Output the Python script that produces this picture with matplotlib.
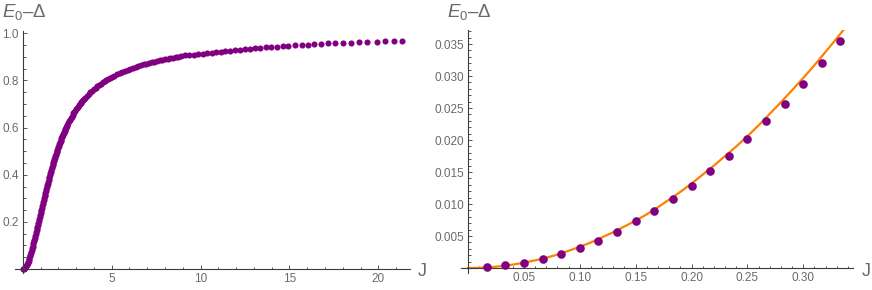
import numpy as np
import matplotlib.pyplot as plt
from matplotlib.ticker import FixedLocator, MultipleLocator

# left panel: E0 - Delta vs J
j_all = [0.00, 0.05, 0.10, 0.15, 0.20, 0.225, 0.25, 0.275, 0.30, 0.325,
         0.35, 0.375, 0.40, 0.425, 0.45, 0.475, 0.50, 0.525, 0.55, 0.575,
         0.60, 0.625, 0.65, 0.675, 0.70, 0.725, 0.75, 0.775, 0.80, 0.825,
         0.85, 0.875, 0.90, 0.925, 0.95, 0.975, 1.00, 1.025, 1.05, 1.075,
         1.10, 1.125, 1.15, 1.175, 1.20, 1.225, 1.25, 1.275, 1.30, 1.325,
         1.35, 1.375, 1.40, 1.425, 1.45, 1.475, 1.50, 1.525, 1.55, 1.575,
         1.60, 1.625, 1.65, 1.675, 1.70, 1.725, 1.75, 1.775, 1.80, 1.825,
         1.85, 1.875, 1.90, 1.925, 1.95, 1.975, 2.00, 2.025, 2.05, 2.075,
         2.10, 2.125, 2.15, 2.175, 2.20, 2.225, 2.25, 2.275, 2.30, 2.325,
         2.35, 2.375, 2.40, 2.425, 2.45, 2.475, 2.50, 2.55, 2.60, 2.65,
         2.70, 2.75, 2.80, 2.85, 2.90, 2.95, 3.00, 3.05, 3.10, 3.15,
         3.20, 3.25, 3.30, 3.35, 3.40, 3.45, 3.5, 3.6, 3.7, 3.8,
         3.9, 4.0, 4.1, 4.2, 4.3, 4.4, 4.5, 4.6, 4.7, 4.8,
         4.9, 5.0, 5.15, 5.3, 5.45, 5.6, 5.75, 5.9, 6.05, 6.2,
         6.35, 6.5, 6.65, 6.8, 6.95, 7.1, 7.25, 7.4, 7.55, 7.7,
         7.85, 8.0, 8.15, 8.3, 8.45, 8.6, 8.75, 8.9, 9.12, 9.36,
         9.63, 9.87, 10.12, 10.38, 10.62, 10.87, 11.13, 11.39, 11.65, 11.93,
         12.22, 12.50, 12.78, 13.06, 13.34, 13.66, 13.96, 14.28, 14.62, 14.93,
         15.29, 15.69, 16.04, 16.40, 16.79, 17.18, 17.58, 18.03, 18.48, 18.93,
         19.38, 19.90, 20.37, 20.88, 21.35]
e_all = [0.000, 0.001, 0.003, 0.007, 0.013, 0.017, 0.021, 0.026, 0.031, 0.036,
         0.042, 0.048, 0.054, 0.060, 0.067, 0.074, 0.081, 0.088, 0.095, 0.102,
         0.110, 0.117, 0.125, 0.132, 0.140, 0.148, 0.156, 0.164, 0.172, 0.180,
         0.188, 0.196, 0.204, 0.212, 0.220, 0.228, 0.236, 0.244, 0.252, 0.260,
         0.268, 0.276, 0.284, 0.292, 0.300, 0.308, 0.316, 0.324, 0.332, 0.340,
         0.347, 0.355, 0.362, 0.370, 0.377, 0.385, 0.392, 0.399, 0.406, 0.413,
         0.420, 0.427, 0.434, 0.441, 0.447, 0.454, 0.460, 0.466, 0.472, 0.478,
         0.484, 0.490, 0.496, 0.502, 0.507, 0.513, 0.518, 0.524, 0.529, 0.534,
         0.539, 0.544, 0.549, 0.554, 0.559, 0.564, 0.568, 0.573, 0.577, 0.582,
         0.586, 0.591, 0.595, 0.599, 0.603, 0.607, 0.611, 0.619, 0.626, 0.633,
         0.640, 0.647, 0.653, 0.660, 0.666, 0.672, 0.678, 0.684, 0.689, 0.694,
         0.699, 0.704, 0.709, 0.714, 0.718, 0.723, 0.727, 0.735, 0.743, 0.750,
         0.757, 0.764, 0.770, 0.776, 0.782, 0.787, 0.792, 0.797, 0.802, 0.806,
         0.810, 0.814, 0.820, 0.826, 0.831, 0.836, 0.841, 0.845, 0.849, 0.853,
         0.857, 0.861, 0.864, 0.868, 0.871, 0.874, 0.877, 0.880, 0.883, 0.885,
         0.888, 0.890, 0.892, 0.895, 0.897, 0.899, 0.901, 0.903, 0.906, 0.908,
         0.910, 0.912, 0.914, 0.916, 0.918, 0.920, 0.922, 0.924, 0.926, 0.928,
         0.930, 0.932, 0.934, 0.936, 0.938, 0.940, 0.942, 0.944, 0.946, 0.947,
         0.949, 0.951, 0.952, 0.954, 0.955, 0.957, 0.958, 0.959, 0.961, 0.962,
         0.963, 0.964, 0.966, 0.967, 0.968]

# right panel: small-J points and the orange fit
j_small = [0.0167, 0.0333, 0.0500, 0.0667, 0.0833, 0.1000, 0.1167, 0.1333, 0.1500, 0.1667,
           0.1833, 0.2000, 0.2167, 0.2333, 0.2500, 0.2667, 0.2833, 0.3000, 0.3167, 0.3333]
e_small = [0.0001, 0.0004, 0.0008, 0.0014, 0.0022, 0.0032, 0.0043, 0.0057, 0.0073, 0.0089,
           0.0108, 0.0128, 0.0151, 0.0175, 0.0201, 0.0229, 0.0257, 0.0288, 0.0321, 0.0355]
j_fit = [0.00, 0.01, 0.02, 0.03, 0.04, 0.05, 0.06, 0.07, 0.08, 0.09,
         0.10, 0.11, 0.12, 0.13, 0.14, 0.15, 0.16, 0.17, 0.18, 0.19,
         0.20, 0.21, 0.22, 0.23, 0.24, 0.25, 0.26, 0.27, 0.28, 0.29,
         0.30, 0.31, 0.32, 0.33, 0.34]
e_fit = [0.0, 0.00003, 0.00013, 0.0003, 0.00053, 0.00083, 0.0012, 0.0016, 0.0021, 0.0027,
         0.0033, 0.0040, 0.0048, 0.0056, 0.0065, 0.0074, 0.0084, 0.0095, 0.0107, 0.0119,
         0.0132, 0.0146, 0.0160, 0.0175, 0.0190, 0.0206, 0.0223, 0.0241, 0.0259, 0.0278,
         0.0297, 0.0317, 0.0338, 0.0359, 0.0381]

left_xticks = [5, 10, 15, 20]
left_yticks = [0.2, 0.4, 0.6, 0.8, 1.0]
left_ylabels = ['0.2', '0.4', '0.6', '0.8', '1.0']
right_xticks = [0.05, 0.10, 0.15, 0.20, 0.25, 0.30]
right_xlabels = ['0.05', '0.10', '0.15', '0.20', '0.25', '0.30']
right_yticks = [0.005, 0.010, 0.015, 0.020, 0.025, 0.030, 0.035]
right_ylabels = ['0.005', '0.010', '0.015', '0.020', '0.025', '0.030', '0.035']

plt.rcParams['font.family'] = ['Liberation Sans', 'DejaVu Sans']
plt.rcParams['mathtext.fontset'] = 'custom'
plt.rcParams['mathtext.rm'] = 'Liberation Sans'
plt.rcParams['mathtext.it'] = 'Liberation Sans:italic'

W, H = 872, 290
fig = plt.figure(figsize=(W / 100, H / 100), dpi=100)

purple = '#800080'
orange = '#ff8000'
axcol = '#3c3c3c'
txtcol = '#6a6a6a'


def make_axes(x0, x1, ytop, ybot):
    return fig.add_axes([x0 / W, 1 - ybot / H, (x1 - x0) / W, (ybot - ytop) / H])


def style(ax):
    for s in ['top', 'right']:
        ax.spines[s].set_visible(False)
    for s in ['left', 'bottom']:
        ax.spines[s].set_position(('data', 0))
        ax.spines[s].set_color(axcol)
        ax.spines[s].set_linewidth(0.8)
    ax.tick_params(which='both', direction='in', colors=axcol, labelcolor=txtcol,
                   labelsize=8.5, width=0.6)
    ax.tick_params(which='major', length=3.2, pad=3)
    ax.tick_params(which='minor', length=1.8)
    ax.patch.set_alpha(0)


# left
ax1 = make_axes(15, 410, 30.5, 273)
ax1.plot(j_all, e_all, 'o', color=purple, ms=4.4, mew=0, clip_on=False)
ax1.set_xlim(-0.44, 21.78)
ax1.set_ylim(-0.017, 1.012)
style(ax1)
ax1.xaxis.set_major_locator(FixedLocator(left_xticks))
ax1.set_xticklabels([str(t) for t in left_xticks])
ax1.xaxis.set_minor_locator(MultipleLocator(1))
ax1.yaxis.set_major_locator(FixedLocator(left_yticks))
ax1.set_yticklabels(left_ylabels)
ax1.yaxis.set_minor_locator(MultipleLocator(0.05))

# right
ax2 = make_axes(461, 853, 30, 272.5)
ax2.plot(j_fit, e_fit, '-', color=orange, lw=1.6, zorder=2)
ax2.plot(j_small, e_small, 'o', color=purple, ms=6.2, mew=0, zorder=3, clip_on=False)
ax2.set_xlim(-0.0063, 0.3445)
ax2.set_ylim(-0.0007, 0.0372)
style(ax2)
ax2.xaxis.set_major_locator(FixedLocator(right_xticks))
ax2.set_xticklabels(right_xlabels)
ax2.xaxis.set_minor_locator(MultipleLocator(0.01))
ax2.yaxis.set_major_locator(FixedLocator(right_yticks))
ax2.set_yticklabels(right_ylabels)
ax2.yaxis.set_minor_locator(MultipleLocator(0.001))

# axis labels
ylab = r'$E_0$–Δ'
fig.text(2 / W, 1 - 17 / H, ylab, fontsize=13.5, color=txtcol, va='baseline', ha='left')
fig.text(447 / W, 1 - 17 / H, ylab, fontsize=13.5, color=txtcol, va='baseline', ha='left')
fig.text(418 / W, 1 - 271 / H, 'J', fontsize=13, color=txtcol, va='center', ha='left')
fig.text(862 / W, 1 - 271 / H, 'J', fontsize=13, color=txtcol, va='center', ha='left')

fig.savefig('out.png', dpi=100)
